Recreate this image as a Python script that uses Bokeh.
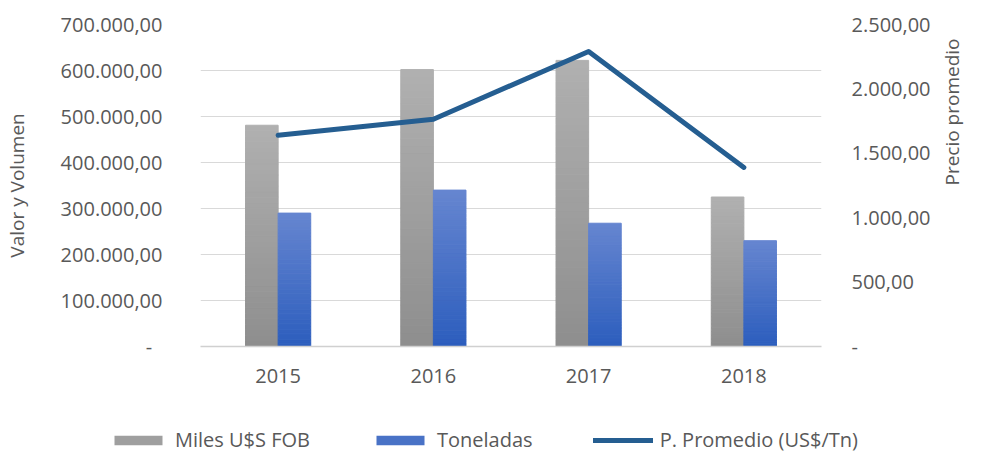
import math
from bokeh.plotting import figure
from bokeh.layouts import column
from bokeh.models import (ColumnDataSource, Range1d, LinearAxis, FixedTicker,
                          Legend, LegendItem, FactorRange)
from bokeh.transform import dodge
from bokeh.embed import file_html
from bokeh.resources import INLINE

# ---------------- data ----------------
years = ["2015", "2016", "2017", "2018"]
miles_fob = [481000, 602000, 622000, 325000]      # Miles U$S FOB (left axis)
toneladas = [290000, 340000, 268000, 230000]      # Toneladas (left axis)
precio = [1640, 1765, 2290, 1390]                 # P. Promedio (US$/Tn) (right axis)

left_ticks = [0, 100000, 200000, 300000, 400000, 500000, 600000, 700000]
right_ticks = [0, 500, 1000, 1500, 2000, 2500]

series_names = ["Miles U$S FOB", "Toneladas", "P. Promedio (US$/Tn)"]
axis_title_left = "Valor y Volumen"
axis_title_right = "Precio promedio"

FONT = "Open Sans"
TXT = "#595959"
GRAY_BOTTOM, GRAY_TOP = "#8e8e8e", "#b0b0b0"
BLUE_BOTTOM, BLUE_TOP = "#2c5dbd", "#6686d0"
LINE_COLOR = "#255e91"


def fmt(v):
    if v == 0:
        return "-"
    s = f"{v:,.2f}"
    return s.replace(",", "X").replace(".", ",").replace("X", ".")


def hexmix(c1, c2, t):
    a = [int(c1[i:i + 2], 16) for i in (1, 3, 5)]
    b = [int(c2[i:i + 2], 16) for i in (1, 3, 5)]
    return "#%02x%02x%02x" % tuple(round(a[k] + (b[k] - a[k]) * t) for k in range(3))


def gradient_source(values, c_bottom, c_top, n=40):
    xs, bots, tops, cols = [], [], [], []
    for y, v in zip(years, values):
        for i in range(n):
            xs.append(y)
            bots.append(v * i / n)
            tops.append(v * (i + 1) / n)
            cols.append(hexmix(c_bottom, c_top, (i + 0.5) / n))
    return ColumnDataSource(dict(x=xs, bottom=bots, top=tops, color=cols))


p = figure(width=982, height=420, x_range=FactorRange(*years),
           y_range=Range1d(0, 700000), output_backend="svg", toolbar_location=None,
           min_border_left=200, min_border_right=161, min_border_top=24,
           min_border_bottom=74)
p.extra_y_ranges = {"price": Range1d(0, 2500)}
p.outline_line_color = None
p.background_fill_color = "white"

src_g = gradient_source(miles_fob, GRAY_BOTTOM, GRAY_TOP)
src_b = gradient_source(toneladas, BLUE_BOTTOM, BLUE_TOP)

p.vbar(x=dodge("x", -0.105, range=p.x_range), bottom="bottom", top="top", width=0.21,
       fill_color="color", line_color="color", line_width=1, source=src_g)
p.vbar(x=dodge("x", 0.105, range=p.x_range), bottom="bottom", top="top", width=0.21,
       fill_color="color", line_color="color", line_width=1, source=src_b)

p.line(x=years, y=precio, y_range_name="price", line_color=LINE_COLOR,
       line_width=5, line_cap="round", line_join="round")

# left axis
ya = p.yaxis[0]
ya.ticker = FixedTicker(ticks=left_ticks)
ya.major_label_overrides = {t: (fmt(t) if t else "-\u00a0\u00a0") for t in left_ticks}
ya.axis_label = axis_title_left
ya.axis_line_color = None
ya.major_tick_line_color = None
ya.minor_tick_line_color = None
ya.major_label_standoff = 32
ya.axis_label_standoff = 28
ya.major_label_text_font = FONT
ya.major_label_text_font_size = "20px"
ya.major_label_text_color = TXT
ya.axis_label_text_font = FONT
ya.axis_label_text_font_size = "19px"
ya.axis_label_text_font_style = "normal"
ya.axis_label_text_color = TXT

# right axis
ra = LinearAxis(y_range_name="price", ticker=FixedTicker(ticks=right_ticks))
ra.major_label_overrides = {t: fmt(t) for t in right_ticks}
ra.axis_label = axis_title_right
ra.axis_line_color = None
ra.major_tick_line_color = None
ra.minor_tick_line_color = None
ra.major_label_standoff = 24
ra.axis_label_standoff = 18
ra.major_label_text_font = FONT
ra.major_label_text_font_size = "20px"
ra.major_label_text_color = TXT
ra.axis_label_text_font = FONT
ra.axis_label_text_font_size = "19px"
ra.axis_label_text_font_style = "normal"
ra.axis_label_text_color = TXT
ra.axis_label_orientation = math.pi / 2
p.add_layout(ra, "right")

# x axis
xa = p.xaxis[0]
xa.axis_line_color = "#d0d0d0"
xa.axis_line_width = 1.5
xa.major_tick_line_color = None
xa.minor_tick_line_color = None
xa.major_label_standoff = 16
xa.major_label_text_font = FONT
xa.major_label_text_font_size = "20px"
xa.major_label_text_color = TXT

p.xgrid.grid_line_color = None
p.ygrid.grid_line_color = "#d9d9d9"
p.ygrid.grid_line_width = 1
p.ygrid.ticker = FixedTicker(ticks=left_ticks)

# ---------------- legend strip ----------------
lg = figure(width=982, height=33, x_range=FactorRange(*years), y_range=Range1d(-1, -0.5),
            output_backend="svg", toolbar_location=None,
            min_border_left=0, min_border_right=0, min_border_top=0, min_border_bottom=0)
lg.axis.visible = False
lg.grid.visible = False
lg.outline_line_color = None
aligned = True
try:
    lg.frame_align = False
    p.frame_align = False
    aligned = False
except Exception:
    aligned = True

lr_g = lg.vbar(x=years, top=miles_fob, width=0.21, fill_color=hexmix(GRAY_BOTTOM, GRAY_TOP, 0.5),
               line_color=None, visible=False)
lr_b = lg.vbar(x=years, top=toneladas, width=0.21, fill_color=hexmix(BLUE_BOTTOM, BLUE_TOP, 0.5),
               line_color=None, visible=False)
lr_l = lg.line(x=years, y=precio, line_color=LINE_COLOR, line_width=5, line_cap="round",
               visible=False)

legend = Legend(items=[
    LegendItem(label=series_names[0], renderers=[lr_g]),
    LegendItem(label=series_names[1], renderers=[lr_b]),
    LegendItem(label=series_names[2], renderers=[lr_l]),
], orientation="horizontal", location=(108 if not aligned else 0, 0), glyph_width=60,
    glyph_height=12, label_standoff=7, spacing=60, padding=0, margin=0,
    border_line_alpha=0, background_fill_alpha=0, inactive_fill_alpha=0,
    label_text_font=FONT, label_text_font_size="20px", label_text_color=TXT)
lg.add_layout(legend, "center")

open("out.html", "w").write(file_html(column(p, lg, spacing=0), INLINE))
